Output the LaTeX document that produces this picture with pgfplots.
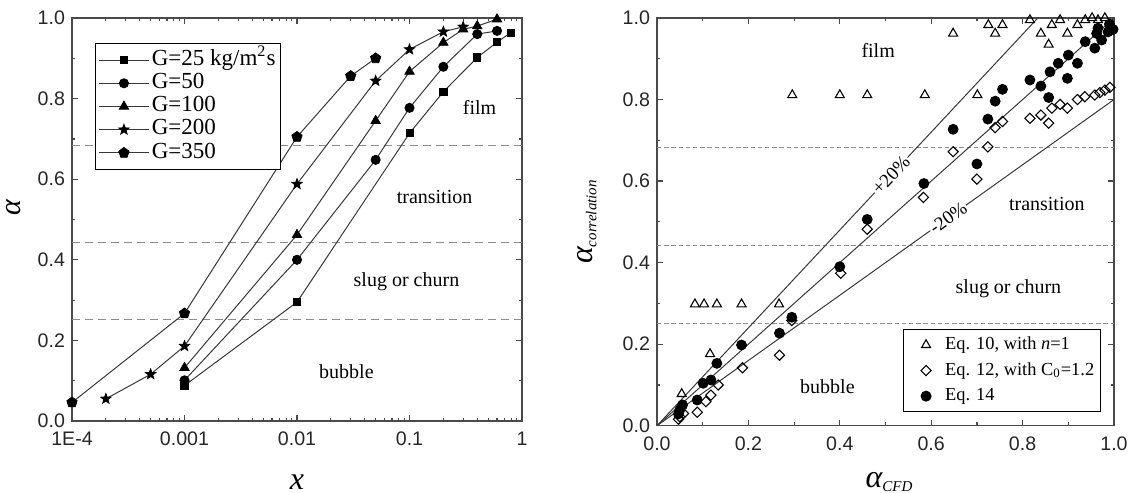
\documentclass[border=0pt]{standalone}
\usepackage{fontspec}
\setmainfont{Liberation Serif}
\setsansfont{Liberation Sans}
\usepackage{pgfplots}
\pgfplotsset{compat=1.18}
\usetikzlibrary{plotmarks}

\definecolor{axisgray}{HTML}{4A4A4A}
\definecolor{linegray}{HTML}{383838}
\definecolor{dashgray}{HTML}{8C8C8C}

% filled five-pointed star
\pgfdeclareplotmark{fstar}{%
  \pgfpathmoveto{\pgfpointpolar{90}{\pgfplotmarksize}}%
  \pgfpathlineto{\pgfpointpolar{126}{0.42\pgfplotmarksize}}%
  \pgfpathlineto{\pgfpointpolar{162}{\pgfplotmarksize}}%
  \pgfpathlineto{\pgfpointpolar{198}{0.42\pgfplotmarksize}}%
  \pgfpathlineto{\pgfpointpolar{234}{\pgfplotmarksize}}%
  \pgfpathlineto{\pgfpointpolar{270}{0.42\pgfplotmarksize}}%
  \pgfpathlineto{\pgfpointpolar{306}{\pgfplotmarksize}}%
  \pgfpathlineto{\pgfpointpolar{342}{0.42\pgfplotmarksize}}%
  \pgfpathlineto{\pgfpointpolar{18}{\pgfplotmarksize}}%
  \pgfpathlineto{\pgfpointpolar{54}{0.42\pgfplotmarksize}}%
  \pgfpathclose
  \pgfusepathqfillstroke}

\tikzset{regtext/.style={font=\fontsize{10}{11}\selectfont}}

\pgfplotsset{
  base/.style={scale only axis, anchor=south west,
    axis line style={axisgray, line width=0.6pt},
    tick align=inside, major tick length=3pt, minor tick length=1.7pt,
    every tick/.style={axisgray, line width=0.6pt},
    tick label style={font=\sffamily\fontsize{9.8}{11}\selectfont, text=black!85},
    xticklabel style={yshift=-2pt},
    ymin=0, ymax=1,
    ytick={0,0.2,0.4,0.6,0.8,1}, yticklabels={0.0,0.2,0.4,0.6,0.8,1.0},
    minor ytick={0.1,0.3,0.5,0.7,0.9}},
  series/.style={line width=0.5pt, color=linegray,
    mark options={solid, draw=black, fill=black, line width=0.4pt}},
  regime/.style={dashgray, line width=0.6pt, dash pattern=on 4pt off 2.5pt, forget plot},
  regime2/.style={dashgray, line width=0.45pt, dash pattern=on 2.2pt off 1.4pt, forget plot},
}

\begin{document}
\begin{tikzpicture}
\useasboundingbox (0,0) rectangle (565.5pt,-246.5pt);

% ---------------- left: alpha vs x ----------------
\begin{axis}[base, at={(36pt,-210.5pt)}, width=225pt, height=201.5pt,
  xmode=log, xmin=1e-4, xmax=1,
  xtick={1e-4,1e-3,1e-2,1e-1,1}, xticklabels={1E-4,0.001,0.01,0.1,1},
  minor xtick={2e-4,3e-4,4e-4,5e-4,6e-4,7e-4,8e-4,9e-4,
               2e-3,3e-3,4e-3,5e-3,6e-3,7e-3,8e-3,9e-3,
               2e-2,3e-2,4e-2,5e-2,6e-2,7e-2,8e-2,9e-2,
               0.2,0.3,0.4,0.5,0.6,0.7,0.8,0.9},
  legend style={at={(0.051,0.938)}, anchor=north west, draw=black, line width=0.5pt,
    font=\fontsize{11.5}{13}\selectfont, row sep=0pt, inner xsep=1.5pt, inner ysep=2.5pt,
    nodes={inner xsep=1.2pt, inner ysep=0.6pt, text height=7.8pt, text depth=2.6pt}},
  legend cell align=left,
  legend image code/.code={\draw[mark repeat=2,mark phase=2,#1] plot coordinates {(0pt,0pt)(12.5pt,0pt)(25pt,0pt)};},
]
\addplot[regime] coordinates {(1e-4,0.683)(1,0.683)};
\addplot[regime] coordinates {(1e-4,0.443)(1,0.443)};
\addplot[regime] coordinates {(1e-4,0.252)(1,0.252)};

\addplot[series, mark=square*, mark size=1.8pt] coordinates {
  (0.001,0.088)(0.01,0.295)(0.1,0.714)(0.2,0.817)(0.4,0.902)(0.6,0.940)(0.8,0.964)};
\addlegendentry{G=25 kg/m\textsuperscript{2}s}
\addplot[series, mark=*, mark size=2.3pt] coordinates {
  (0.001,0.101)(0.01,0.400)(0.05,0.648)(0.1,0.777)(0.2,0.879)(0.4,0.960)(0.6,0.968)};
\addlegendentry{G=50}
\addplot[series, mark=triangle*, mark size=2.7pt] coordinates {
  (0.001,0.132)(0.01,0.462)(0.05,0.745)(0.1,0.867)(0.2,0.939)(0.3,0.972)(0.4,0.980)(0.6,0.997)};
\addlegendentry{G=100}
\addplot[series, mark=fstar, mark size=2.7pt] coordinates {
  (2e-4,0.055)(5e-4,0.116)(0.001,0.186)(0.01,0.588)(0.05,0.844)(0.1,0.922)(0.2,0.966)(0.3,0.978)};
\addlegendentry{G=200}
\addplot[series, mark=pentagon*, mark size=2.7pt] coordinates {
  (1e-4,0.046)(0.001,0.267)(0.01,0.705)(0.03,0.856)(0.05,0.900)};
\addlegendentry{G=350}

\node[regtext] at (axis cs:0.42,0.777) {film};
\node[regtext] at (axis cs:0.167,0.556) {transition};
\node[regtext] at (axis cs:0.094,0.346) {slug or churn};
\node[regtext] at (axis cs:0.0275,0.122) {bubble};
\end{axis}

% ---------------- right: correlation vs CFD ----------------
\begin{axis}[base, at={(328.5pt,-212.85pt)}, width=228.5pt, height=203.85pt,
  xmin=0, xmax=1,
  xtick={0,0.2,0.4,0.6,0.8,1}, xticklabels={0.0,0.2,0.4,0.6,0.8,1.0},
  minor xtick={0.1,0.3,0.5,0.7,0.9},
  legend style={at={(0.971,0.033)}, anchor=south east, draw=black, line width=0.5pt,
    font=\fontsize{9.2}{11}\selectfont, row sep=1.2pt, inner xsep=1.5pt, inner ysep=2pt,
    nodes={inner xsep=1.5pt, inner ysep=0.6pt, text height=7.6pt, text depth=2.8pt}},
  legend cell align=left,
  legend image code/.code={\path[draw=none] (-10pt,0pt) -- (8pt,0pt); \draw[#1] plot coordinates {(0pt,0pt)};},
]
\addplot[regime2] coordinates {(0,0.683)(1,0.683)};
\addplot[regime2] coordinates {(0,0.442)(1,0.442)};
\addplot[regime2] coordinates {(0,0.250)(1,0.250)};
\addplot[linegray, line width=0.5pt, forget plot] coordinates {(0,0)(1,1)};
\addplot[linegray, line width=0.5pt, forget plot] coordinates {(0,0)(0.8333,1)};
\addplot[linegray, line width=0.5pt, forget plot] coordinates {(0,0)(1,0.8)};

\addplot[only marks, mark=triangle, mark size=2.6pt, mark options={draw=black, line width=0.55pt}] coordinates {
  (0.054,0.078)(0.116,0.176)(0.083,0.298)(0.103,0.298)(0.131,0.298)(0.185,0.298)(0.267,0.298)
  (0.296,0.811)(0.400,0.811)(0.460,0.811)(0.586,0.811)(0.701,0.811)
  (0.648,0.962)(0.725,0.983)(0.756,0.983)(0.740,0.962)(0.816,0.995)(0.840,0.962)(0.857,0.935)
  (0.864,0.983)(0.882,0.995)(0.898,0.962)(0.920,0.983)(0.937,0.995)(0.952,1.0)(0.965,0.995)(0.980,1.0)};
\addlegendentry{Eq. 10, with \textit{n}=1}
\addplot[only marks, mark=square, mark size=1.8pt, mark options={draw=black, line width=0.55pt, rotate=45}] coordinates {
  (0.047,0.016)(0.050,0.022)(0.058,0.030)(0.088,0.033)(0.107,0.059)(0.118,0.075)(0.134,0.100)
  (0.187,0.142)(0.268,0.173)(0.295,0.258)(0.402,0.374)(0.460,0.482)(0.583,0.560)(0.648,0.672)
  (0.700,0.605)(0.724,0.684)(0.740,0.731)(0.756,0.746)(0.816,0.754)(0.840,0.762)(0.857,0.742)
  (0.864,0.779)(0.882,0.788)(0.898,0.779)(0.920,0.800)(0.936,0.807)(0.958,0.811)(0.969,0.817)
  (0.980,0.823)(0.991,0.830)};
\addlegendentry{Eq. 12, with C\textsubscript{0}=1.2}
\addplot[only marks, mark=*, mark size=2.5pt, mark options={draw=black, fill=black}] coordinates {
  (0.047,0.029)(0.050,0.039)(0.056,0.051)(0.088,0.063)(0.101,0.104)(0.118,0.112)(0.131,0.153)
  (0.185,0.198)(0.268,0.227)(0.295,0.266)(0.400,0.390)(0.460,0.506)(0.584,0.594)(0.648,0.727)
  (0.700,0.642)(0.724,0.752)(0.740,0.796)(0.756,0.825)(0.816,0.848)(0.840,0.833)(0.857,0.805)
  (0.860,0.868)(0.878,0.889)(0.898,0.852)(0.900,0.909)(0.920,0.889)(0.937,0.942)(0.958,0.926)
  (0.962,0.962)(0.973,0.946)(0.965,0.975)(0.987,0.966)(0.990,0.985)(0.998,0.972)};
\addlegendentry{Eq. 14}

\node[fill=white, inner sep=0.6pt, rotate=47, font=\fontsize{9.5}{10}\selectfont] at (axis cs:0.512,0.615) {+20\%};
\node[fill=white, inner sep=0.6pt, rotate=35.5, font=\fontsize{9.5}{10}\selectfont] at (axis cs:0.637,0.510) {-20\%};
\node[regtext] at (axis cs:0.484,0.921) {film};
\node[regtext] at (axis cs:0.853,0.544) {transition};
\node[regtext] at (axis cs:0.769,0.335) {slug or churn};
\node[regtext] at (axis cs:0.373,0.096) {bubble};
\end{axis}

% axis labels
\node[rotate=90, anchor=base, inner sep=0.5pt] at (10pt,-103.75pt) {\fontsize{15}{15}\selectfont\itshape α};
\node[anchor=base, inner sep=0.5pt] at (148.5pt,-244.5pt) {\fontsize{16}{16}\selectfont\itshape x};
\node[rotate=90, anchor=base] at (296pt,-111pt) {\fontsize{16}{16}\selectfont\itshape α\raisebox{-0.3ex}{\fontsize{7.5}{8}\selectfont correlation}};
\node[anchor=base] at (444.5pt,-243.5pt) {\fontsize{16}{16}\selectfont\itshape α\raisebox{-0.3ex}{\fontsize{7.5}{8}\selectfont CFD}};
\end{tikzpicture}
\end{document}
